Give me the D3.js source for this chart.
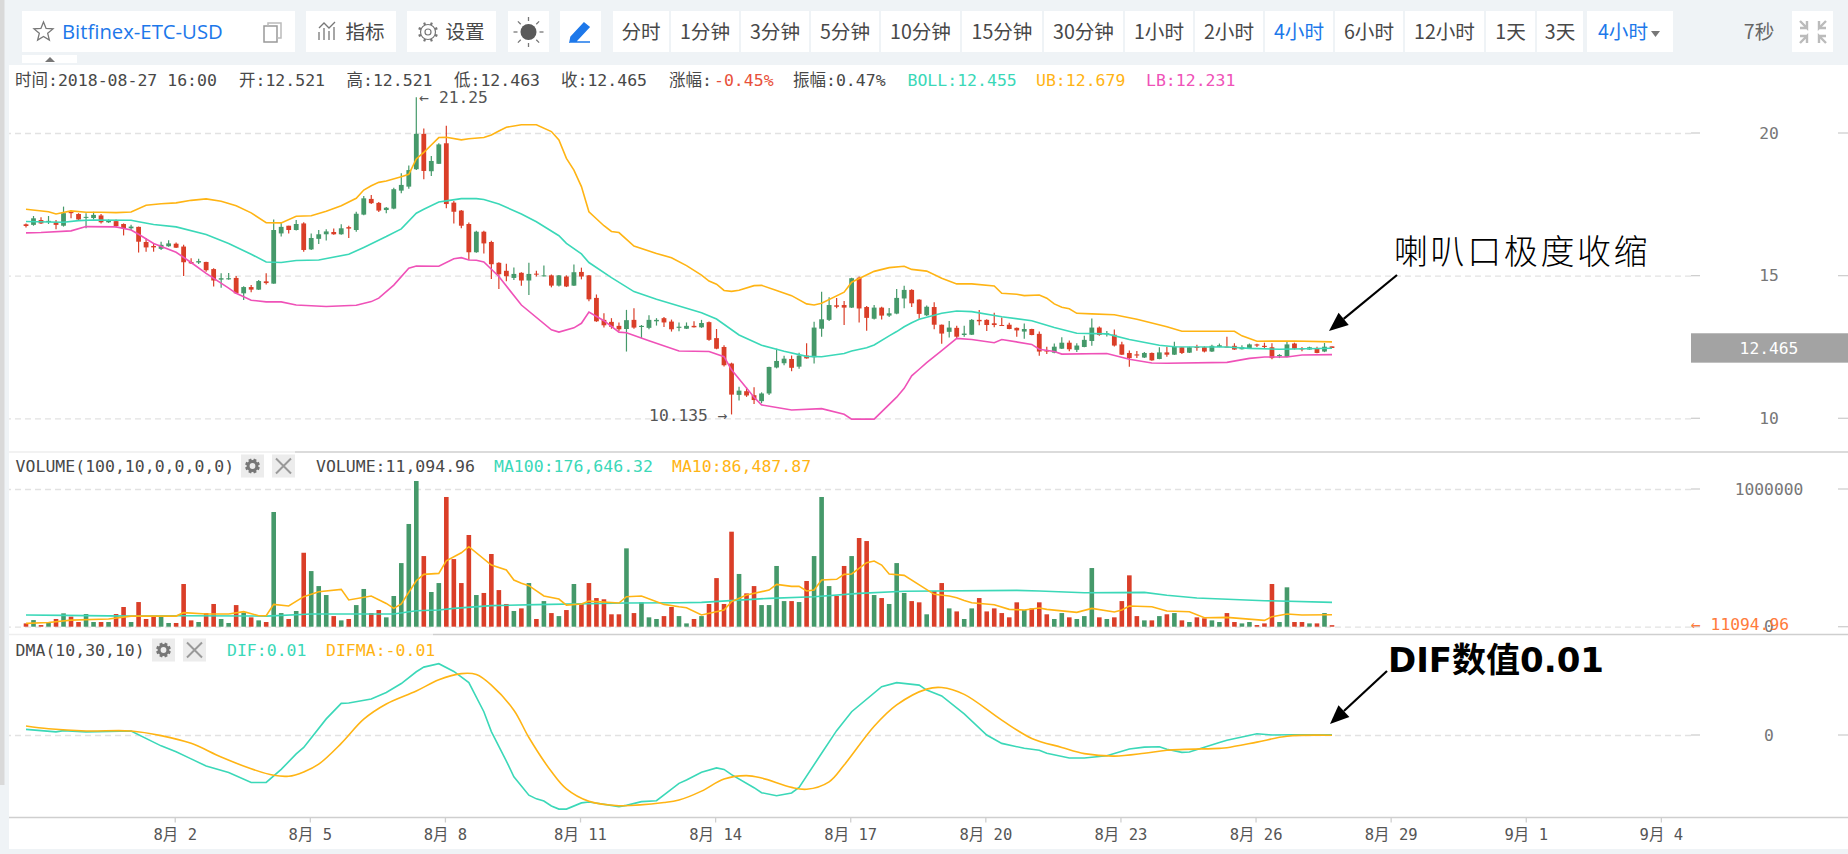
<!DOCTYPE html>
<html>
<head>
<meta charset="utf-8">
<script src="https://cdn.jsdelivr.net/npm/d3@7"></script>
<style>
  html, body { margin: 0; padding: 0; background: #fff; overflow: hidden; }
  text { font-family: "DejaVu Sans Mono", "Noto Sans CJK SC", monospace; }
  .ui { font-family: "Noto Sans CJK SC", sans-serif; }
</style>
</head>
<body>
<svg id="chart" width="1848" height="854"></svg>
<script>
// 4 hour candles, 7/29 16:00 -> 8/27 16:00
let opens = [16.80,16.78,16.95,16.88,16.87,16.75,17.23,17.16,17.03,17.02,17.11,16.87,16.91,16.81,16.66,16.71,16.18,16.04,15.94,16.03,
  16.12,16.02,15.48,15.46,15.48,15.23,14.86,14.87,14.92,14.38,14.60,14.51,14.80,14.72,16.48,16.75,16.60,16.83,15.92,16.29,
  16.45,16.53,16.45,16.70,16.60,17.14,17.69,17.55,17.30,17.35,17.98,18.12,18.73,19.97,18.66,18.92,19.64,17.56,17.28,16.81,
  15.82,16.54,16.18,15.45,15.17,14.92,15.10,14.83,15.07,14.98,15.01,14.65,14.97,14.65,15.13,15.01,14.22,13.45,13.38,13.24,
  13.13,13.45,13.20,13.17,13.40,13.51,13.39,13.17,13.14,13.24,13.19,13.37,12.81,12.50,11.92,10.82,10.95,10.81,10.60,10.87,
  11.78,11.93,12.08,11.81,12.20,12.14,13.14,13.45,13.96,13.97,13.88,14.93,13.90,13.49,13.88,13.60,13.67,14.20,14.50,14.16,
  13.61,13.90,13.28,13.03,13.17,12.92,12.93,13.45,13.45,13.33,13.27,13.28,13.17,13.04,13.13,12.96,12.38,12.30,12.44,12.65,
  12.40,12.50,12.71,13.18,12.96,12.93,12.59,12.29,12.24,12.13,12.29,12.08,12.31,12.23,12.49,12.30,12.50,12.49,12.34,12.50,
  12.51,12.54,12.42,12.44,12.59,12.54,12.49,12.18,12.15,12.62,12.45,12.41,12.45,12.34,12.521];
let closes = [16.74,17.01,16.83,16.92,16.78,17.19,17.19,16.97,17.06,17.13,16.87,16.92,16.74,16.66,16.72,16.19,15.99,15.99,16.08,16.13,
  15.98,15.47,15.43,15.51,15.19,14.83,14.91,14.91,14.38,14.60,14.51,14.81,14.74,16.60,16.71,16.60,16.81,15.90,16.32,16.45,
  16.55,16.45,16.66,16.65,17.17,17.71,17.54,17.28,17.38,18.03,18.18,18.70,19.97,18.67,19.02,19.60,17.51,17.24,16.75,15.82,
  16.54,16.13,15.40,15.05,14.98,15.06,14.83,15.06,15.04,15.01,14.65,15.01,14.62,15.12,14.97,14.17,13.40,13.26,13.21,13.12,
  13.44,13.18,13.24,13.45,13.45,13.36,13.12,13.21,13.24,13.19,13.34,12.75,12.44,11.86,10.83,10.97,10.80,10.64,10.87,11.80,
  12.01,12.09,11.77,12.20,12.10,13.18,13.47,13.97,13.91,13.88,14.91,13.85,13.52,13.88,13.60,13.68,14.22,14.50,14.03,13.66,
  13.91,13.28,12.97,13.18,12.86,12.97,13.45,13.40,13.27,13.27,13.26,13.13,13.08,13.13,12.92,12.34,12.34,12.51,12.65,12.42,
  12.55,12.75,13.18,12.92,12.98,12.55,12.23,12.11,12.20,12.29,12.03,12.31,12.23,12.51,12.29,12.49,12.47,12.34,12.54,12.56,
  12.50,12.41,12.50,12.59,12.55,12.50,12.11,12.22,12.59,12.44,12.43,12.49,12.29,12.51,12.465];
let highs = [16.83,17.09,17.05,17.09,16.95,17.42,17.30,17.19,17.19,17.24,17.16,16.97,16.97,16.83,16.78,16.72,16.31,16.13,16.19,16.24,
  16.16,16.08,15.61,15.59,15.49,15.26,15.08,15.09,14.99,14.63,14.67,14.85,15.08,16.97,16.86,16.75,16.95,16.87,16.48,16.60,
  16.63,16.65,16.80,16.75,17.24,17.79,17.83,17.58,17.41,18.08,18.59,18.86,21.25,20.16,19.19,19.64,20.25,17.62,17.30,16.86,
  16.57,16.57,16.22,15.47,15.42,15.29,15.12,15.45,15.17,15.36,15.04,15.02,15.01,15.39,15.28,15.02,14.34,13.68,13.51,13.36,
  13.80,13.86,13.27,13.61,13.51,13.55,13.46,13.36,13.36,13.40,13.45,13.39,13.13,12.56,11.95,11.11,11.08,11.09,10.91,11.81,
  12.44,12.19,12.20,12.30,12.63,13.38,14.44,14.24,14.22,14.11,14.93,14.97,13.94,13.97,13.91,13.87,14.53,14.65,14.52,14.17,
  13.95,14.07,13.29,13.41,13.24,13.24,13.48,13.80,13.47,13.70,13.53,13.35,13.18,13.32,13.14,13.04,12.51,12.62,12.84,12.73,
  12.63,12.89,13.50,13.22,13.06,13.11,12.68,12.38,12.36,12.32,12.31,12.49,12.51,12.68,12.50,12.51,12.58,12.52,12.58,12.62,
  12.86,12.63,12.56,12.62,12.61,12.65,12.63,12.25,12.69,12.65,12.50,12.51,12.51,12.64,12.521];
let lows = [16.69,16.75,16.81,16.81,16.63,16.72,17.01,16.95,16.66,16.97,16.83,16.85,16.69,16.41,16.60,15.81,15.84,15.84,15.90,16.01,
  15.97,14.99,15.41,15.41,15.14,14.62,14.58,14.86,14.36,14.15,14.42,14.50,14.69,14.72,16.37,16.48,16.58,15.84,15.90,16.11,
  16.23,16.43,16.43,16.32,16.54,17.12,17.51,17.23,17.19,17.33,17.89,18.05,18.70,18.38,18.49,18.91,17.36,16.83,16.66,15.55,
  15.80,15.78,14.88,14.53,14.80,14.85,14.65,14.32,14.97,14.97,14.59,14.62,14.60,14.64,14.87,14.10,13.38,13.18,13.14,13.05,
  12.34,13.14,12.81,13.12,13.25,13.20,13.04,13.05,13.13,13.18,13.17,12.72,12.42,11.82,10.135,10.62,10.75,10.50,10.53,10.82,
  11.75,11.86,11.65,11.74,12.09,11.92,12.86,13.41,13.86,13.27,13.87,13.36,13.07,13.46,13.46,13.55,13.65,13.86,13.90,13.49,
  13.59,13.12,12.61,12.83,12.80,12.86,12.92,13.26,13.06,13.19,13.25,13.12,12.86,12.79,12.91,12.19,12.25,12.28,12.43,12.35,
  12.32,12.49,12.54,12.89,12.87,12.52,12.22,11.81,12.11,12.11,12.02,12.07,12.16,12.22,12.25,12.29,12.37,12.31,12.32,12.49,
  12.49,12.40,12.41,12.43,12.50,12.44,12.07,12.11,12.14,12.41,12.35,12.40,12.28,12.32,12.463];

// volume in thousands
let volumes = [24,48,12,31,56,97,73,34,92,34,34,34,92,143,34,179,56,73,73,27,
  27,310,46,34,99,165,56,27,157,102,68,46,34,833,99,56,114,537,404,295,
  230,77,46,56,157,274,99,121,68,223,462,746,1058,513,252,317,942,491,317,666,
  230,245,528,266,165,114,133,317,56,186,99,77,121,310,165,317,208,199,90,90,
  569,99,177,68,56,77,143,77,24,56,77,165,353,165,690,383,242,295,157,157,
  441,186,186,179,332,513,942,295,223,441,513,644,622,230,208,165,462,245,186,177,
  90,259,317,133,111,56,133,208,111,133,99,68,177,121,133,177,90,56,99,68,
  56,77,426,68,56,68,186,373,77,46,46,77,90,99,46,34,68,61,46,34,
  99,34,24,34,12,24,310,34,286,34,34,24,24,99,11.09];

// indicator lines, read as [candle index] + [value]
let ubIdx = [0,3,4,6,8,10,12,14,16,18,20,22,24,26,28,30,32,34,36,38,40,42,44,45,46,47,48,50,51,52,53,54,55,56,58,59,61,62,63,64,66,68,70,71,72,73,74,75,77,78,79,81,84,86,88,90,91,92,93,94,95,97,98,100,102,104,105,106,109,110,111,113,115,117,118,120,122,124,126,129,130,132,133,135,136,137,138,139,140,142,145,148,152,154,161,162,164,169,174];
let ubVal = [17.33,17.24,17.16,17.27,17.22,17.22,17.21,17.23,17.47,17.52,17.55,17.64,17.69,17.61,17.45,17.20,16.86,16.85,17.08,17.10,17.26,17.45,17.71,18.00,18.15,18.27,18.32,18.47,18.55,19.09,19.32,19.58,19.84,19.85,19.76,19.80,19.84,19.93,20.07,20.20,20.29,20.29,20.05,19.76,19.11,18.70,18.12,17.24,16.75,16.55,16.51,16.04,15.78,15.63,15.35,15.02,14.81,14.70,14.48,14.45,14.49,14.65,14.66,14.48,14.30,14.01,13.97,14.03,14.42,14.77,14.90,15.15,15.28,15.33,15.22,15.16,14.91,14.71,14.71,14.64,14.38,14.35,14.30,14.32,14.21,14.01,13.89,13.84,13.68,13.66,13.63,13.47,13.21,13.05,13.05,12.89,12.70,12.71,12.679];
let bollIdx = [0,3,5,7,9,14,15,17,20,24,27,30,32,34,36,39,43,45,48,50,52,53,55,56,58,60,61,63,66,68,71,72,74,75,78,81,84,90,92,95,98,101,104,106,109,110,112,113,115,116,117,118,119,120,122,124,126,130,134,137,140,144,147,151,153,160,163,167,174];
let bollVal = [16.90,16.88,16.87,16.93,16.95,16.94,16.89,16.79,16.71,16.44,16.13,15.75,15.48,15.46,15.53,15.55,15.75,15.99,16.37,16.64,17.19,17.33,17.58,17.62,17.70,17.70,17.67,17.51,17.16,16.89,16.40,16.13,15.76,15.46,14.93,14.44,14.17,13.70,13.48,12.92,12.56,12.35,12.17,12.16,12.27,12.36,12.47,12.57,12.89,13.04,13.21,13.35,13.47,13.54,13.68,13.76,13.74,13.56,13.42,13.18,12.98,12.96,12.76,12.56,12.51,12.50,12.45,12.42,12.455];
let lbIdx = [0,2,6,8,12,14,15,17,20,22,24,27,28,30,32,34,36,40,44,46,47,49,51,52,55,57,58,59,60,61,63,66,70,71,73,74,75,77,79,80,83,87,91,93,94,97,98,102,106,109,110,113,116,117,118,119,120,121,122,124,126,129,130,134,135,137,138,144,147,150,152,160,163,165,168,170,174];
let lbVal = [16.50,16.51,16.57,16.72,16.71,16.60,16.45,16.13,15.82,15.46,15.08,14.56,14.38,14.14,14.08,14.08,13.97,13.92,13.96,14.09,14.21,14.67,15.26,15.34,15.33,15.59,15.63,15.55,15.54,15.48,14.97,13.97,13.10,13.02,13.17,13.33,13.72,13.42,13.02,13.00,12.72,12.36,12.34,12.16,11.70,10.74,10.47,10.29,10.34,10.14,9.97,9.97,10.74,11.05,11.49,11.72,11.95,12.16,12.37,12.80,12.76,12.65,12.76,12.59,12.42,12.34,12.25,12.27,12.07,11.94,11.93,11.96,12.10,12.15,12.15,12.22,12.231];

let ma100Idx = [0,5,14,20,32,38,49,52,55,57,62,68,80,87,90,99,105,111,117,132,135,141,149,152,156,165,174];
let ma100Val = [85,82,77,80,77,92,92,116,121,133,153,160,172,174,177,206,218,242,257,264,259,247,249,228,208,189,176.6];
let ma10Idx = [0,3,6,11,14,20,21,24,27,29,31,32,33,35,37,39,42,43,46,48,49,50,52,53,55,56,58,59,62,64,65,66,67,69,71,72,74,75,79,80,82,85,87,88,90,93,94,96,99,100,102,103,104,105,106,108,109,110,112,113,114,115,117,121,123,124,125,126,129,131,133,135,136,140,142,145,146,147,150,152,155,157,160,165,166,168,170,174];
let ma10Val = [24,31,48,56,77,77,102,92,92,109,80,80,162,150,218,254,271,194,223,169,133,165,334,380,387,479,537,581,448,412,339,315,298,223,201,157,165,186,172,218,223,162,145,138,85,121,182,230,266,307,293,293,259,266,339,344,380,383,465,477,448,383,373,235,223,211,191,174,160,126,121,136,126,104,133,107,121,150,145,114,109,65,68,46,73,92,85,86.49];

let difIdx = [0,4,5,8,14,18,20,22,24,27,30,32,34,36,37,40,42,43,46,48,50,52,53,55,57,59,61,62,64,65,67,68,69,70,71,72,74,75,79,80,82,84,87,88,90,92,93,94,97,98,100,102,103,106,108,110,114,116,119,120,122,125,128,130,133,135,136,139,141,144,147,149,151,152,154,155,159,160,164,166,169,174];
let difVal = [0.18,0.10,0.14,0.10,0.13,-0.35,-0.54,-0.77,-1.00,-1.21,-1.53,-1.53,-1.11,-0.61,-0.40,0.52,1.02,1.03,1.16,1.37,1.66,2.04,2.19,2.30,2.05,1.69,0.75,0.11,-0.84,-1.35,-1.94,-2.06,-2.13,-2.29,-2.39,-2.39,-2.19,-2.16,-2.31,-2.27,-2.15,-2.12,-1.56,-1.45,-1.20,-1.06,-1.11,-1.28,-1.70,-1.86,-1.96,-1.87,-1.69,-0.59,0.14,0.75,1.56,1.69,1.61,1.45,1.26,0.68,0.00,-0.27,-0.43,-0.49,-0.59,-0.74,-0.74,-0.67,-0.45,-0.39,-0.38,-0.46,-0.56,-0.55,-0.24,-0.17,0.04,0.00,0.01,0.01];
let difmaIdx = [0,3,8,14,18,22,26,30,33,35,37,39,42,45,48,52,55,58,60,62,65,67,70,72,75,79,85,87,90,93,96,98,102,104,107,109,113,116,120,122,125,130,134,138,141,145,149,152,159,160,164,168,174];
let difmaVal = [0.29,0.20,0.13,0.13,-0.02,-0.27,-0.71,-1.09,-1.30,-1.33,-1.19,-0.94,-0.27,0.51,1.00,1.42,1.78,1.98,1.95,1.61,0.80,-0.08,-1.18,-1.74,-2.14,-2.28,-2.18,-2.10,-1.81,-1.42,-1.31,-1.39,-1.69,-1.75,-1.51,-0.97,0.28,0.97,1.48,1.53,1.31,0.48,-0.11,-0.40,-0.60,-0.68,-0.59,-0.49,-0.43,-0.41,-0.23,-0.04,-0.01];

// axes
let priceTicks = [10, 15, 20];
let volTicks = [0, 1000];
let volTickLabels = ["0", "1000000"];
let dmaTicks = [0];
let timeTicks = [20,38,56,74,92,110,128,146,164,182,200,218];
let timeLabels = ["8月 2","8月 5","8月 8","8月 11","8月 14","8月 17","8月 20","8月 23","8月 26","8月 29","9月 1","9月 4"];

// toolbar
let periods = ["分时","1分钟","3分钟","5分钟","10分钟","15分钟","30分钟","1小时","2小时","4小时","6小时","12小时","1天","3天"];
let periodEdges = [613,671,741,811,881,962,1044,1125,1195,1265,1335,1405,1486,1537,1585];

const GREEN = "#45996a", RED = "#da3e28", TEAL = "#3bd8b8", AMBER = "#ffb414", PINK = "#ef52b8";
const BLUE = "#1d78ea", INK = "#484848";

const svg = d3.select("#chart");
const n = opens.length;
const bars = d3.range(n);

const x = d3.scaleLinear().domain([0, n - 1]).range([26, 1332]);
const yPrice = d3.scaleLinear().domain([10, 20]).range([418.3, 133]);
const yVol = d3.scaleLinear().domain([0, 1000]).range([626.7, 489]);
const yDma = d3.scaleLinear().domain([-1, 1]).range([766, 704]);

// page background + chart area
svg.append("rect").attr("width", 1848).attr("height", 854).attr("fill", "#eff3f6");
svg.append("rect").attr("x", 0).attr("width", 4.5).attr("height", 785).attr("fill", "#d9d9d9");
svg.append("rect").attr("x", 9).attr("y", 65).attr("width", 1839).attr("height", 784).attr("fill", "#fff");

//Toolbar
function box(x0, x1) {
  svg.append("rect").attr("x", x0).attr("y", 11).attr("width", x1 - x0).attr("height", 41).attr("fill", "#fff");
}
function uiText(str, cx, color, anchor) {
  return svg.append("text").attr("class", "ui").attr("x", cx).attr("y", 32)
    .attr("dy", "0.36em").attr("text-anchor", anchor || "middle")
    .attr("font-size", 19.6).attr("fill", color || INK).text(str);
}
box(22, 295); box(306, 396); box(407, 496); box(508, 549); box(560, 601); box(1587, 1673); box(1792, 1833);
periods.forEach(function(p, i) {
  box(periodEdges[i], periodEdges[i + 1] - 2);
  uiText(p, (periodEdges[i] + periodEdges[i + 1] - 2) / 2, p === "4小时" ? BLUE : INK);
});
uiText("Bitfinex-ETC-USD", 62, BLUE, "start").style("font-family", "'Open Sans'").attr("font-size", 20.3);
uiText("指标", 365);
uiText("设置", 465);
uiText("4小时", 1623, BLUE);
uiText("7秒", 1759, "#666");

// little triangles
svg.append("path").attr("d", "M1651 31h9l-4.5 6z").attr("fill", "#777");
svg.append("rect").attr("x", 22).attr("y", 55).attr("width", 55).attr("height", 8).attr("fill", "#fff");
svg.append("path").attr("d", "M45 62l5-5 5 5z").attr("fill", "#777");

// star, copy icon
let star = d3.range(10).map(function(i) {
  let r = i % 2 ? 4.4 : 10, a = i * Math.PI / 5 - Math.PI / 2;
  return [43.5 + r * Math.cos(a), 32 + r * Math.sin(a)];
});
svg.append("polygon").attr("points", star.join(" ")).attr("fill", "none").attr("stroke", "#777").attr("stroke-width", 1.3);
svg.append("rect").attr("x", 264).attr("y", 26).attr("width", 13).attr("height", 16).attr("fill", "none").attr("stroke", "#999").attr("stroke-width", 1.5);
svg.append("path").attr("d", "M268 26v-3h13v15h-4").attr("fill", "none").attr("stroke", "#bbb").attr("stroke-width", 1.5);

// indicator icon
svg.append("path").attr("d", "M319 40v-8M324 40v-12M329 40v-9M334 40v-13M319 28l5-5 5 5 6-6").attr("fill", "none").attr("stroke", "#777").attr("stroke-width", 1.3);

// gear
function gear(cx, cy, r, w, color, tooth) {
  svg.append("circle").attr("cx", cx).attr("cy", cy).attr("r", r).attr("fill", "none").attr("stroke", color).attr("stroke-width", w);
  d3.range(8).forEach(function(i) {
    let a = i * Math.PI / 4 + Math.PI / 8;
    svg.append("line").attr("x1", cx + r * Math.cos(a)).attr("y1", cy + r * Math.sin(a))
      .attr("x2", cx + (r + tooth) * Math.cos(a)).attr("y2", cy + (r + tooth) * Math.sin(a))
      .attr("stroke", color).attr("stroke-width", Math.max(w, 2.2));
  });
}
gear(428, 32, 7.5, 1.2, "#777", 2.6);
svg.append("circle").attr("cx", 428).attr("cy", 32).attr("r", 3).attr("fill", "none").attr("stroke", "#777").attr("stroke-width", 1.2);

// sun
svg.append("circle").attr("cx", 528.5).attr("cy", 32).attr("r", 8).attr("fill", "#5a5a5a");
d3.range(8).forEach(function(i) {
  let a = i * Math.PI / 4;
  svg.append("line").attr("x1", 528.5 + 11 * Math.cos(a)).attr("y1", 32 + 11 * Math.sin(a))
    .attr("x2", 528.5 + 15 * Math.cos(a)).attr("y2", 32 + 15 * Math.sin(a))
    .attr("stroke", "#777").attr("stroke-width", 1.3);
});

// pen
svg.append("path").attr("d", "M571 37l13-14 5 4-13 14-6 1zM570 42h20").attr("fill", BLUE).attr("stroke", BLUE).attr("stroke-width", 1.5);

// collapse icon
[[1800, 21, 1], [1826, 21, -1]].forEach(function(a) {
  svg.append("path").attr("d", "M" + a[0] + " " + a[1] + "l" + 7 * a[2] + " 7v-7m0 7h" + (-7 * a[2])).attr("fill", "none").attr("stroke", "#bbb").attr("stroke-width", 2.4);
  svg.append("path").attr("d", "M" + a[0] + " " + (a[1] + 22) + "l" + 7 * a[2] + " -7v7m0 -7h" + (-7 * a[2])).attr("fill", "none").attr("stroke", "#bbb").attr("stroke-width", 2.4);
});

//Panel separators (the header strip hides part of them)
[[452, 295], [634.5, 433], [817.5, 9]].forEach(function(l) {
  svg.append("line").attr("x1", 9).attr("x2", l[1]).attr("y1", l[0]).attr("y2", l[0]).attr("stroke", "#eee").attr("stroke-width", 1.5);
  svg.append("line").attr("x1", l[1]).attr("x2", 1848).attr("y1", l[0]).attr("y2", l[0]).attr("stroke", "#cfcfcf").attr("stroke-width", 1.5);
});

// right side axis with dashed grid running across the plot
function rightAxis(scale, ticks, labels) {
  let g = svg.append("g").attr("transform", "translate(1700,0)")
    .call(d3.axisLeft(scale).tickValues(ticks).tickSize(1691).tickFormat(""));
  g.select(".domain").remove();
  g.selectAll("line").attr("stroke", "#e2e2e2").attr("stroke-width", 1.3).attr("stroke-dasharray", "6 4").attr("x2", -1691).attr("x1", -9);

  let tg = svg.append("g").attr("transform", "translate(1769,0)")
    .call(d3.axisRight(scale).tickValues(ticks).tickSize(0).tickPadding(0).tickFormat(function(d, i) { return labels ? labels[i] : d; }));
  tg.select(".domain").remove();
  tg.selectAll("text").attr("text-anchor", "middle").attr("font-size", 16.3)
    .style("font-family", "'DejaVu Sans Mono'").attr("fill", "#777");

  // short solid ticks both sides of the labels
  ticks.forEach(function(t) {
    [[1691, 1700], [1838, 1848]].forEach(function(s) {
      svg.append("line").attr("x1", s[0]).attr("x2", s[1]).attr("y1", scale(t)).attr("y2", scale(t)).attr("stroke", "#cfcfcf").attr("stroke-width", 1.3);
    });
  });
}
rightAxis(yPrice, priceTicks);
rightAxis(yVol, volTicks, volTickLabels);
rightAxis(yDma, dmaTicks);

// time axis
let xg = svg.append("g").attr("transform", "translate(-1.4,817.5)")
  .call(d3.axisBottom(x).tickValues(timeTicks).tickSize(5).tickPadding(6).tickFormat(function(d, i) { return timeLabels[i]; }));
xg.select(".domain").remove();
xg.selectAll("line").attr("stroke", "#cfcfcf").attr("stroke-width", 1.3);
xg.selectAll("text").attr("font-size", 15.5).attr("fill", "#555").style("font-family", "'DejaVu Sans Mono','Noto Sans CJK SC'");

function barColor(i) { return closes[i] >= opens[i] ? GREEN : RED; }

//Candles
svg.append("g").selectAll("line").data(bars).enter().append("line")
  .attr("x1", function(i) { return x(i); }).attr("x2", function(i) { return x(i); })
  .attr("y1", function(i) { return yPrice(highs[i]); }).attr("y2", function(i) { return yPrice(lows[i]); })
  .attr("stroke", barColor).attr("stroke-width", 1.2);
svg.append("g").selectAll("rect").data(bars).enter().append("rect")
  .attr("x", function(i) { return x(i) - 2.4; }).attr("width", 4.8)
  .attr("y", function(i) { return yPrice(Math.max(opens[i], closes[i])); })
  .attr("height", function(i) { return Math.max(1, Math.abs(yPrice(opens[i]) - yPrice(closes[i]))); })
  .attr("fill", barColor);

//Volume bars
svg.append("g").selectAll("rect").data(bars).enter().append("rect")
  .attr("x", function(i) { return x(i) - 2.3; }).attr("width", 4.6)
  .attr("y", function(i) { return yVol(volumes[i]); })
  .attr("height", function(i) { return yVol(0) - yVol(volumes[i]); })
  .attr("fill", barColor);

//Lines
function drawLine(idx, val, y, color, curve, w) {
  let line = d3.line().x(function(d) { return x(d[0]); }).y(function(d) { return y(d[1]); }).curve(curve || d3.curveLinear);
  svg.append("path").datum(d3.zip(idx, val)).attr("d", line).attr("fill", "none").attr("stroke", color).attr("stroke-width", w || 1.6);
}
drawLine(ubIdx, ubVal, yPrice, AMBER);
drawLine(bollIdx, bollVal, yPrice, TEAL);
drawLine(lbIdx, lbVal, yPrice, PINK);
drawLine(ma100Idx, ma100Val, yVol, TEAL);
drawLine(ma10Idx, ma10Val, yVol, AMBER);
drawLine(difIdx, difVal, yDma, TEAL);
drawLine(difmaIdx, difmaVal, yDma, AMBER, d3.curveCatmullRom.alpha(0.5));

//Info lines
function info(items, y) {
  items.forEach(function(t) {
    svg.append("text").attr("x", t[1]).attr("y", y).attr("dy", "0.35em").attr("font-size", 16.5)
      .attr("fill", t[2] || INK).text(t[0]);
  });
}
info([["时间:2018-08-27 16:00", 15], ["开:12.521", 239], ["高:12.521", 346.5], ["低:12.463", 454], ["收:12.465", 561],
  ["涨幅:", 669], ["-0.45%", 714, "#e8503a"], ["振幅:0.47%", 793], ["BOLL:12.455", 907.5, TEAL], ["UB:12.679", 1036, AMBER], ["LB:12.231", 1146, PINK]], 80.7);
info([["VOLUME(100,10,0,0,0,0)", 15.6], ["VOLUME:11,094.96", 316], ["MA100:176,646.32", 494, TEAL], ["MA10:86,487.87", 672, AMBER]], 466);
info([["DMA(10,30,10)", 15.6], ["DIF:0.01", 227, TEAL], ["DIFMA:-0.01", 326, AMBER]], 650);

// gear + close buttons
[[241, 272, 466], [152, 183, 650]].forEach(function(b) {
  svg.append("rect").attr("x", b[0]).attr("y", b[2] - 11.5).attr("width", 23).attr("height", 23).attr("fill", "#ececec");
  svg.append("rect").attr("x", b[1]).attr("y", b[2] - 11.5).attr("width", 23).attr("height", 23).attr("fill", "#ececec");
  gear(b[0] + 11.5, b[2], 4.4, 3, "#777", 3);
  svg.append("path").attr("d", "M" + (b[1] + 4) + " " + (b[2] - 7.5) + "l15 15m0 -15l-15 15").attr("stroke", "#999").attr("stroke-width", 2);
});

// high / low / last value labels
function note(str, px, py, color, anchor) {
  svg.append("text").attr("x", px).attr("y", py).attr("dy", "0.35em").attr("font-size", 16.3)
    .attr("text-anchor", anchor || "start").attr("fill", color || "#555").text(str);
}
note("← 21.25", x(52) + 3, yPrice(21.25), "#555");
note("10.135 →", x(94) - 4, yPrice(10.135) + 1, "#555", "end");
note("← 11094.96", 1691, yVol(11.09) - 1, "#ff7b3c");

svg.append("rect").attr("x", 1691).attr("y", yPrice(12.465) - 14.7).attr("width", 157).attr("height", 29.4).attr("fill", "#a3a3a3");
note("12.465", 1769, yPrice(12.465), "#fff", "middle");

//Annotations
svg.append("text").attr("class", "ui").attr("x", 1394).attr("y", 252).attr("dy", "0.36em")
  .attr("font-size", 34).attr("letter-spacing", 2.6).attr("font-weight", 300).attr("fill", "#000").text("喇叭口极度收缩");
svg.append("text").attr("x", 1388).attr("y", 660).attr("dy", "0.36em").attr("font-size", 34).attr("fill", "#000")
  .attr("font-weight", 700).style("font-family", "'DejaVu Sans','Noto Sans CJK SC'").text("DIF数值0.01");

function arrow(x0, y0, x1, y1) {
  let a = Math.atan2(y1 - y0, x1 - x0), len = 19, wid = 8;
  let bx = x1 - len * Math.cos(a), by = y1 - len * Math.sin(a);
  svg.append("line").attr("x1", x0).attr("y1", y0).attr("x2", bx).attr("y2", by).attr("stroke", "#000").attr("stroke-width", 2.2);
  svg.append("polygon").attr("points", [[x1, y1], [bx - wid * Math.sin(a), by + wid * Math.cos(a)], [bx + wid * Math.sin(a), by - wid * Math.cos(a)]].join(" ")).attr("fill", "#000");
}
arrow(1397, 275, 1329, 331);
arrow(1387, 671, 1330, 724);
</script>
</body>
</html>
